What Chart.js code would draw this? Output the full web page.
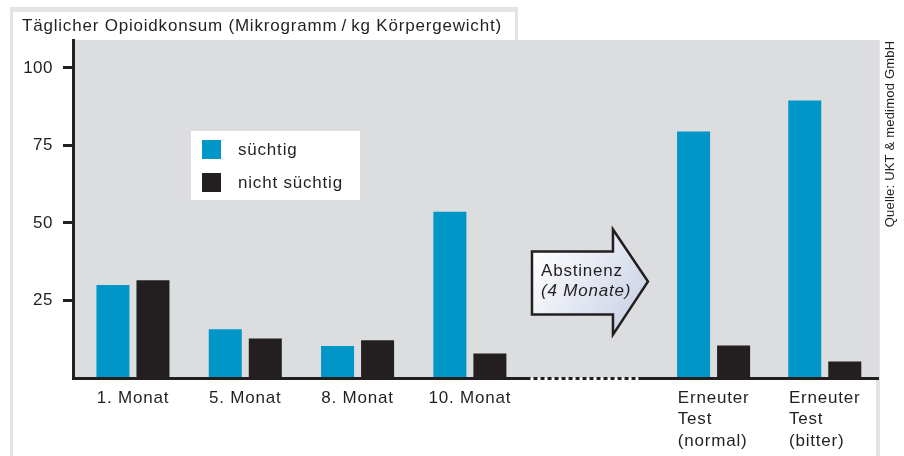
<!DOCTYPE html>
<html>
<head>
<meta charset="utf-8">
<script src="https://cdn.jsdelivr.net/npm/chart.js@4.4.1/dist/chart.umd.min.js"></script>
<style>
html, body { margin: 0; padding: 0; background: #fff; }
</style>
</head>
<body>
<canvas id="chart" width="904" height="456"></canvas>
<script>
// Data
const groupLabels = [['1. Monat'], ['5. Monat'], ['8. Monat'], ['10. Monat'],
    ['Erneuter', 'Test', '(normal)'], ['Erneuter', 'Test', '(bitter)']];
const groupPos = [0, 1, 2, 3, 5.17, 6.16]; // group slots, gap for the abstinence period
const addicted = [30, 15.7, 10.3, 53.6, 79.5, 89.5];
const notAddicted = [31.5, 12.7, 12.2, 7.9, 10.5, 5.3];
const yTicks = [25, 50, 75, 100];
const seriesNames = ['süchtig', 'nicht süchtig'];
const titleText = 'Täglicher Opioidkonsum (Mikrogramm\u2009/\u2009kg Körpergewicht)';
const sourceText = 'Quelle: UKT & medimod GmbH';
const arrowText = ['Abstinenz', '(4 Monate)'];

const BLUE = '#0096c8';
const BLACK = '#231f20';
const PLOT_GRAY = '#dcdddf';
const FRAME_GRAY = '#e3e3e3';
const FONT = "'Liberation Sans', Arial, sans-serif";
const SPACING = '0.8px';

const decor = {
    id: 'decor',
    beforeDraw(chart) {
        const ctx = chart.ctx;
        const a = chart.chartArea;
        ctx.save();
        ctx.fillStyle = '#fff';
        ctx.fillRect(0, 0, chart.width, chart.height);
        // frame lines
        ctx.fillStyle = FRAME_GRAY;
        ctx.fillRect(10, 7, 508, 5);
        ctx.fillRect(10, 7, 3, chart.height - 7);
        ctx.fillRect(515, 7, 3, 33);
        ctx.fillRect(a.right - 2, a.top, 4, chart.height - a.top);
        // plot background
        ctx.fillStyle = PLOT_GRAY;
        ctx.fillRect(a.left, a.top, a.right - a.left + 1, a.bottom - a.top);
        ctx.restore();
        ctx.letterSpacing = '0.5px'; // for the y tick labels
    },
    afterDatasetsDraw(chart) {
        const ctx = chart.ctx;
        const a = chart.chartArea;
        const xs = chart.scales.x;
        const ys = chart.scales.y;
        const px = v => xs.getPixelForValue(v);
        const py = v => ys.getPixelForValue(v);
        ctx.save();
        ctx.letterSpacing = SPACING;

        // x axis line with dotted gap
        const gapA = px(3.54), gapB = px(4.5);
        ctx.strokeStyle = BLACK;
        ctx.lineWidth = 3;
        ctx.beginPath();
        ctx.moveTo(a.left - 1, a.bottom + 0.5);
        ctx.lineTo(gapA, a.bottom + 0.5);
        ctx.moveTo(gapB, a.bottom + 0.5);
        ctx.lineTo(a.right + 1, a.bottom + 0.5);
        ctx.stroke();
        ctx.setLineDash([4, 3]);
        ctx.beginPath();
        ctx.moveTo(gapA + 3, a.bottom + 0.5);
        ctx.lineTo(gapB, a.bottom + 0.5);
        ctx.stroke();
        ctx.setLineDash([]);

        // abstinence arrow
        const bl = px(3.553), hb = px(4.274), tip = px(4.586);
        const bt = py(40.8), bb = py(20.5), ht = py(47.9), hbt = py(14.0), my = py(31.1);
        const grad = ctx.createLinearGradient(bl, bt, tip, hbt);
        grad.addColorStop(0, '#ffffff');
        grad.addColorStop(1, '#c3cce2');
        ctx.beginPath();
        ctx.moveTo(bl, bt);
        ctx.lineTo(hb, bt);
        ctx.lineTo(hb, ht);
        ctx.lineTo(tip, my);
        ctx.lineTo(hb, hbt);
        ctx.lineTo(hb, bb);
        ctx.lineTo(bl, bb);
        ctx.closePath();
        ctx.fillStyle = grad;
        ctx.fill();
        ctx.lineWidth = 2.5;
        ctx.lineJoin = 'miter';
        ctx.strokeStyle = BLACK;
        ctx.stroke();
        ctx.fillStyle = BLACK;
        ctx.textBaseline = 'middle';
        ctx.textAlign = 'left';
        ctx.font = '17px ' + FONT;
        ctx.fillText(arrowText[0], bl + 9, my - 10);
        ctx.font = 'italic 17px ' + FONT;
        ctx.fillText(arrowText[1], bl + 9, my + 10);

        // legend box
        ctx.fillStyle = '#fff';
        ctx.fillRect(191, 131, 169, 69);
        const colors = [BLUE, BLACK];
        ctx.font = '17px ' + FONT;
        seriesNames.forEach((name, i) => {
            const y0 = 140 + i * 33;
            ctx.fillStyle = colors[i];
            ctx.fillRect(202, y0, 19, 19);
            ctx.fillStyle = BLACK;
            ctx.fillText(name, 238, y0 + 10);
        });

        // x labels: block centred, lines left aligned
        ctx.font = '17px ' + FONT;
        groupLabels.forEach((lines, i) => {
            const c = px(groupPos[i]);
            const w = Math.max(...lines.map(l => ctx.measureText(l).width));
            lines.forEach((l, j) => {
                ctx.fillText(l, c - w / 2, 398 + j * 21.5);
            });
        });

        // title
        ctx.font = '17px ' + FONT;
        ctx.fillText(titleText, 22, 26);

        // source, rotated
        ctx.letterSpacing = '0.2px';
        ctx.translate(890, 134);
        ctx.rotate(-Math.PI / 2);
        ctx.textAlign = 'center';
        ctx.font = '13px ' + FONT;
        ctx.fillText(sourceText, 0, 0);
        ctx.restore();
    }
};

new Chart(document.getElementById('chart'), {
    type: 'bar',
    data: {
        datasets: [
            {
                label: seriesNames[0],
                data: groupPos.map((x, i) => ({ x: x, y: addicted[i] })),
                backgroundColor: BLUE
            },
            {
                label: seriesNames[1],
                data: groupPos.map((x, i) => ({ x: x, y: notAddicted[i] })),
                backgroundColor: BLACK
            }
        ]
    },
    options: {
        responsive: false,
        animation: false,
        events: [],
        layout: { padding: { top: 40, right: 26, left: 0, bottom: 0 } },
        datasets: { bar: { categoryPercentage: 0.72, barPercentage: 0.825 } },
        plugins: {
            legend: { display: false },
            tooltip: { enabled: false }
        },
        scales: {
            x: {
                type: 'linear',
                offset: false,
                min: -0.534,
                max: 6.634,
                grid: { display: false, offset: false },
                border: { display: false },
                ticks: { display: false },
                afterBuildTicks: s => { s.ticks = groupPos.map(v => ({ value: v })); },
                afterFit: s => { s.height = 78; }
            },
            y: {
                min: 0,
                max: 109,
                afterBuildTicks: s => { s.ticks = yTicks.map(v => ({ value: v })); },
                grid: {
                    drawOnChartArea: false,
                    drawTicks: true,
                    tickLength: 10,
                    tickWidth: 3,
                    tickColor: BLACK
                },
                border: { display: true, color: BLACK, width: 3 },
                ticks: {
                    padding: 10,
                    color: BLACK,
                    font: { family: FONT, size: 17 }
                },
                afterFit: s => { s.width = 73; }
            }
        }
    },
    plugins: [decor]
});
</script>
</body>
</html>
